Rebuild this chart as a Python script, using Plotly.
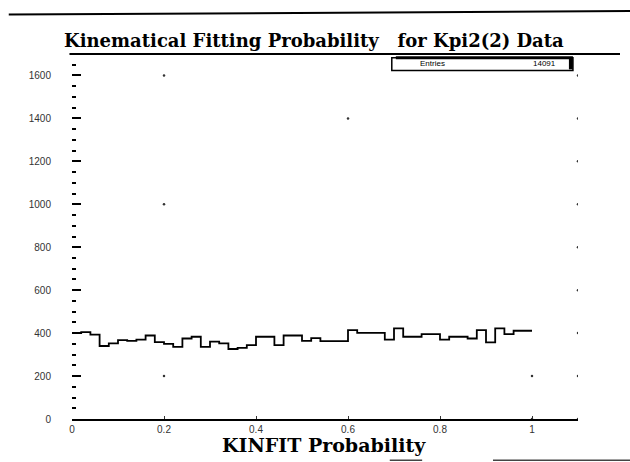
import numpy as np
import plotly.graph_objects as go

# KINFIT probability histogram, 50 bins on [0, 1]
counts = [400, 405, 393, 340, 352, 367, 364, 370, 389, 358,
          350, 336, 375, 383, 336, 360, 352, 326, 331, 344,
          383, 383, 344, 389, 389, 364, 377, 363, 363, 363,
          414, 401, 401, 401, 370, 422, 383, 383, 395, 395,
          370, 383, 383, 375, 414, 357, 422, 395, 411, 411]
x_lo, x_hi = 0.0, 1.0
entries_text = "14091"

y_tickvals = [0, 200, 400, 600, 800, 1000, 1200, 1400, 1600]
x_tickvals = [0, 0.2, 0.4, 0.6, 0.8, 1.0]
x_ticktext = ["0", "0.2", "0.4", "0.6", "0.8", "1"]

# sparse dotted grid points
grid_x = [1.1] * 9 + [0.2, 0.2, 0.2, 0.6, 1.0, 1.0]
grid_y = y_tickvals + [1600, 1000, 200, 1400, 200, 0]

edges = np.linspace(x_lo, x_hi, len(counts) + 1)
step_y = list(counts) + [counts[-1]]

fig = go.Figure()
fig.add_trace(go.Scatter(
    x=grid_x, y=grid_y, mode="markers",
    marker=dict(size=2.5, color="#333"), hoverinfo="skip"))
fig.add_trace(go.Scatter(
    x=edges, y=step_y, mode="lines",
    line=dict(shape="hv", color="black", width=1.8)))

serif = "DejaVu Serif, serif"
sans = "Liberation Sans, Arial, sans-serif"

fig.update_layout(
    width=630, height=462,
    margin=dict(l=72, r=52, t=54, b=43),
    paper_bgcolor="white", plot_bgcolor="white",
    showlegend=False,
    xaxis=dict(
        range=[0, 1.1], showgrid=False, zeroline=False,
        showline=True, linecolor="black", linewidth=1.5,
        tickvals=x_tickvals, ticktext=x_ticktext,
        ticks="inside", ticklen=3, tickcolor="#333",
        ticklabelstandoff=0,
        tickfont=dict(family=sans, size=10, color="#333"),
    ),
    yaxis=dict(
        range=[0, 1700], showgrid=False, zeroline=False,
        showline=False,
        tickvals=y_tickvals,
        ticks="inside", ticklen=9, tickwidth=1.5, tickcolor="black",
        ticklabelstandoff=20,
        tickfont=dict(family=sans, size=10, color="#333"),
        minor=dict(dtick=50, ticks="inside", ticklen=4, tickcolor="black"),
    ),
    shapes=[
        # frame top
        dict(type="line", xref="paper", yref="paper", x0=-0.005, x1=1.083, y0=1, y1=1,
             line=dict(color="black", width=1.8)),
        # page rule at the top
        dict(type="line", xref="paper", yref="paper", x0=-0.125, x1=1.105, y0=1.108, y1=1.118,
             line=dict(color="black", width=2)),
        # rules at the bottom edge
        dict(type="line", xref="paper", yref="paper", x0=0.628, x1=0.692, y0=-0.113, y1=-0.113,
             line=dict(color="#444", width=1.5)),
        dict(type="line", xref="paper", yref="paper", x0=0.832, x1=1.105, y0=-0.113, y1=-0.113,
             line=dict(color="#444", width=1.5)),
        # statistics box
        dict(type="rect", xref="paper", yref="paper", x0=0.632, x1=0.99, y0=0.955, y1=0.99,
             line=dict(color="black", width=1.5), fillcolor="white"),
        dict(type="line", xref="paper", yref="paper", x0=0.64, x1=0.99, y0=0.99, y1=0.99,
             line=dict(color="black", width=3)),
        dict(type="line", xref="paper", yref="paper", x0=0.986, x1=0.986, y0=0.958, y1=0.99,
             line=dict(color="black", width=4)),
    ],
    annotations=[
        dict(text="<b>Kinematical Fitting Probability\u00a0\u00a0\u00a0for Kpi2(2) Data</b>",
             xref="paper", yref="paper", x=0.478, y=1.037, xanchor="center", yanchor="middle",
             showarrow=False, font=dict(family=serif, size=18, color="black")),
        dict(text="<b>KINFIT Probability</b>",
             xref="paper", yref="paper", x=0.499, y=-0.071, xanchor="center", yanchor="middle",
             showarrow=False, font=dict(family=serif, size=19, color="black")),
        dict(text="Entries", xref="paper", yref="paper", x=0.684, y=0.973,
             xanchor="left", yanchor="middle", showarrow=False,
             font=dict(family=sans, size=8, color="black")),
        dict(text=entries_text, xref="paper", yref="paper", x=0.96, y=0.973,
             xanchor="right", yanchor="middle", showarrow=False,
             font=dict(family=sans, size=8, color="black")),
    ],
)

fig.write_html("out.html")
